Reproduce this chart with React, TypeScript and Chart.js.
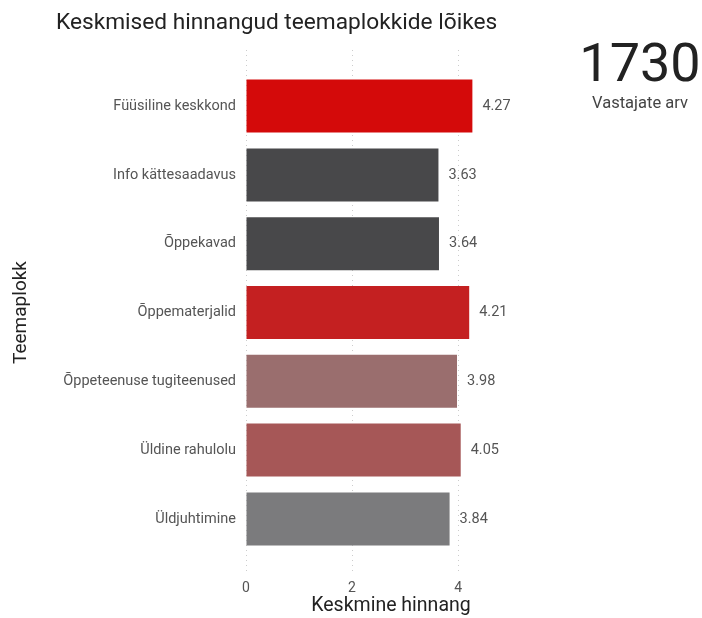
import React, { useEffect, useRef } from "react";
import { Chart, registerables } from "chart.js";

Chart.register(...registerables);

const categories = [
  "Füüsiline keskkond",
  "Info kättesaadavus",
  "Õppekavad",
  "Õppematerjalid",
  "Õppeteenuse tugiteenused",
  "Üldine rahulolu",
  "Üldjuhtimine",
];
const values = [4.27, 3.63, 3.64, 4.21, 3.98, 4.05, 3.84];
const barColors = ["#D40A0A", "#48484A", "#48484A", "#C42021", "#9A6E6E", "#A65757", "#7B7B7D"];
const xTicks = [0, 2, 4];
const title = "Keskmised hinnangud teemaplokkide lõikes";
const kpiValue = "1730";
const kpiLabel = "Vastajate arv";
const xTitle = "Keskmine hinnang";
const yTitle = "Teemaplokk";

const FONT = "Roboto, 'Noto Sans', sans-serif";

const valueLabels = {
  id: "valueLabels",
  afterDatasetsDraw(chart: any) {
    const ctx = chart.ctx;
    const meta = chart.getDatasetMeta(0);
    ctx.save();
    ctx.font = `14.5px ${FONT}`;
    ctx.fillStyle = "#555555";
    ctx.textAlign = "left";
    ctx.textBaseline = "middle";
    meta.data.forEach((bar: any, i: number) => {
      ctx.fillText(values[i].toFixed(2), bar.x + 10, bar.y);
    });
    ctx.restore();
  },
};

export default function App() {
  const ref = useRef<HTMLCanvasElement>(null);
  useEffect(() => {
    if (!ref.current) return;
    const chart = new Chart(ref.current, {
      type: "bar",
      data: {
        datasets: [
          {
            data: values.map((v, i) => ({ x: v, y: i })),
            backgroundColor: barColors,
            borderWidth: 0,
            barPercentage: 0.77,
            categoryPercentage: 1,
          },
        ],
      },
      options: {
        indexAxis: "y",
        animation: false,
        responsive: false,
        maintainAspectRatio: false,
        layout: { padding: { top: 50, left: 0, right: 166, bottom: 0 } },
        plugins: { legend: { display: false }, tooltip: { enabled: false } },
        scales: {
          x: {
            type: "linear",
            min: 0,
            max: 5.47,
            afterBuildTicks: (scale: any) => {
              scale.ticks = xTicks.map((v) => ({ value: v }));
            },
            afterFit: (scale: any) => {
              scale.height = 43;
            },
            ticks: { color: "#555555", font: { family: FONT, size: 14 }, padding: 5 },
            grid: { color: "#cccccc", lineWidth: 1, drawTicks: false },
            border: { display: false, dash: [1, 4] },
            title: {
              display: true,
              text: xTitle,
              color: "#222222",
              font: { family: FONT, size: 19.5 },
              padding: { top: 0, bottom: 0 },
            },
          },
          y: {
            type: "linear",
            reverse: true,
            offset: false,
            min: -0.815,
            max: 6.815,
            afterBuildTicks: (scale: any) => {
              scale.ticks = categories.map((_, i) => ({ value: i }));
            },
            afterFit: (scale: any) => {
              scale.width = 246;
            },
            ticks: {
              color: "#555555",
              font: { family: FONT, size: 14.5 },
              padding: 10,
              callback: (v: any) => categories[v] ?? "",
            },
            grid: { display: false, drawTicks: false, offset: false },
            border: { display: false },
            title: {
              display: true,
              text: yTitle,
              color: "#222222",
              font: { family: FONT, size: 19 },
              padding: { top: 10, bottom: 0 },
            },
          },
        },
      },
      plugins: [valueLabels],
    } as any);
    return () => chart.destroy();
  }, []);

  return (
    <div style={{ position: "fixed", left: 0, top: 0, width: 702, height: 618, background: "#fff", fontFamily: FONT }}>
      <canvas ref={ref} width={702} height={618} style={{ position: "absolute", left: 0, top: 0 }} />
      <div style={{ position: "absolute", left: 56, top: 7, fontSize: 22.7, color: "#222222", whiteSpace: "nowrap", lineHeight: "30px" }}>
        {title}
      </div>
      <div style={{ position: "absolute", left: 560, width: 160, top: 31, textAlign: "center", fontSize: 54, color: "#222222", lineHeight: "64px" }}>
        {kpiValue}
      </div>
      <div style={{ position: "absolute", left: 560, width: 160, top: 93, textAlign: "center", fontSize: 16.5, color: "#444444", lineHeight: "20px" }}>
        {kpiLabel}
      </div>
    </div>
  );
}
